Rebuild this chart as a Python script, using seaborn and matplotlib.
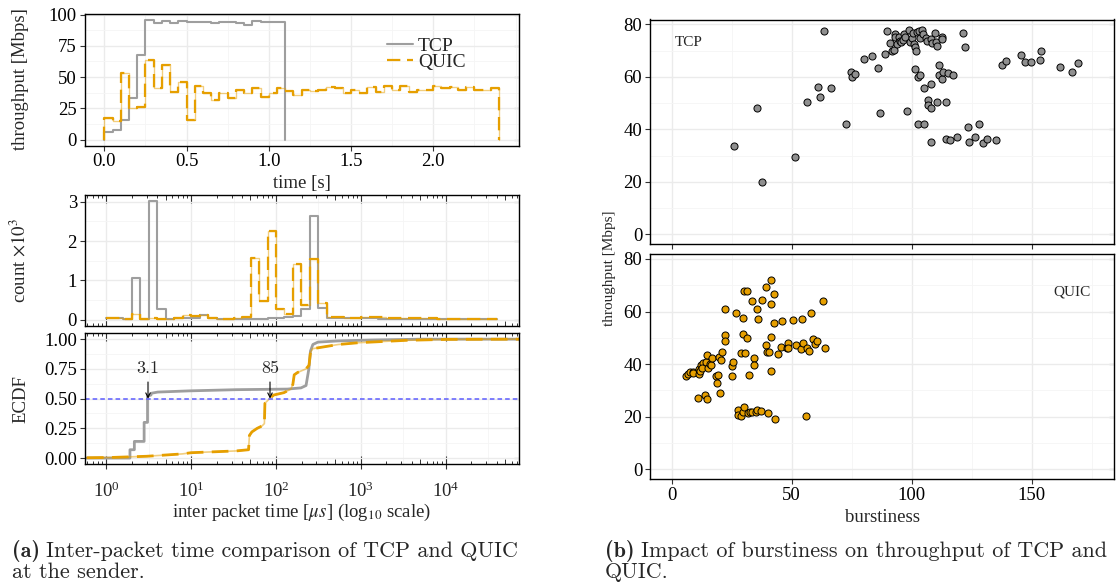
import numpy as np
import matplotlib
matplotlib.use('Agg')
import matplotlib.pyplot as plt
import matplotlib.ticker as mticker
from matplotlib.lines import Line2D
import seaborn as sns

# (a) arriba: throughput por intervalo de 50 ms [Mbps]
bin_s = 0.05
tcp_tput = [6, 8, 16, 33, 68, 96, 93, 94.5, 93, 94.5, 94, 94, 94, 93.5, 94, 94,
            93.5, 92, 95, 94, 94, 94]
quic_tput = [17, 15, 53, 25, 26, 64, 41, 60, 38, 46, 16, 43, 37.5, 32, 37.5, 33,
             39.5, 37.5, 41, 34, 37, 41, 38.5, 36, 40, 38.5, 40, 42, 41, 37, 40, 37.5,
             42, 38, 43, 39.5, 43, 38, 39.5, 40, 43, 41, 42, 39.5, 42, 39.5, 40, 41]

# (a) medio: histograma del tiempo entre paquetes, bins de 0.1 en log10(us), count x10^3
hist_bin = 0.1
tcp_hist = [0.04, 0.03, 0.02, 1.05, 0.02, 3.02, 0.27, 0.02, 0.04, 0.05, 0.05, 0.12,
            0.03, 0.02, 0.01, 0.01, 0.02, 0.02, 0.02, 0.03, 0.03, 0.06, 0.10, 0.27,
            2.65, 0.30, 0.05, 0.04, 0.03, 0.03, 0.03, 0.03, 0.02, 0.02, 0.02, 0.02,
            0.02, 0.01, 0.01, 0.01, 0.01, 0.01, 0.01, 0.01, 0.01, 0.01]
quic_hist = [0.04, 0.03, 0.02, 0.15, 0.02, 0.05, 0.02, 0.02, 0.03, 0.12, 0.08, 0.12,
             0.04, 0.02, 0.02, 0.03, 0.07, 1.57, 0.47, 2.27, 0.27, 0.15, 1.42, 0.37,
             1.55, 0.42, 0.07, 0.07, 0.05, 0.05, 0.06, 0.07, 0.06, 0.05, 0.04, 0.05,
             0.04, 0.04, 0.03, 0.02, 0.02, 0.02, 0.02, 0.02, 0.01, 0.01]

# (a) abajo: ECDF (us, fraccion)
tcp_ecdf_us = [0.3, 1.90, 1.90, 2.14, 2.14, 2.79, 2.79, 3.06, 3.06, 3.36, 3.40, 4.04,
               9.5, 34, 136, 197, 226, 244, 255, 272, 312, 540, 1360, 5400, 1e5]
tcp_ecdf_f = [0.0, 0.0, 0.07, 0.07, 0.14, 0.14, 0.30, 0.30, 0.52, 0.53, 0.545, 0.555,
              0.565, 0.575, 0.58, 0.59, 0.61, 0.75, 0.90, 0.955, 0.975, 0.985, 0.993,
              1.0, 1.0]
quic_ecdf_us = [0.3, 1.15, 3.0, 7.9, 10, 34, 47.5, 48.6, 52, 60, 68.5, 73, 74, 84, 94,
                124, 150, 158, 164, 180, 226, 245, 255, 272, 542, 940, 3400, 10300, 1e5]
quic_ecdf_f = [0.0, 0.005, 0.015, 0.035, 0.045, 0.06, 0.07, 0.19, 0.22, 0.25, 0.27,
               0.29, 0.46, 0.50, 0.53, 0.55, 0.58, 0.62, 0.70, 0.72, 0.75, 0.78, 0.89,
               0.92, 0.955, 0.97, 0.99, 0.998, 1.0]
tcp_median = 3.1
quic_median = 85

# (b) burstiness vs throughput
tcp_burst = [25.9, 35.5, 37.6, 51.3, 56.6, 60.8, 61.7, 63.5, 66.5, 72.6, 74.8, 75.2,
             76.6, 80.2, 83.5, 86.0, 86.8, 88.8, 89.9, 90.9, 92.0, 92.7, 93.1, 93.2,
             93.9, 94.9, 95.3, 95.6, 96.3, 97.0, 97.4, 98.0, 99.0, 99.4, 100.0, 100.4,
             101.0, 101.4, 101.6, 101.8, 102.1, 102.6, 102.6, 103.0, 103.3, 103.7, 104.4,
             104.8, 105.1, 105.1, 106.1, 106.5, 106.9, 106.9, 108.1, 108.1, 108.2, 108.2,
             108.6, 109.7, 110.0, 110.4, 110.6, 111.4, 111.4, 112.5, 112.5, 112.8, 113.1,
             114.2, 114.5, 115.2, 115.9, 117.4, 119.1, 121.5, 122.2, 123.7, 124.0, 126.5,
             128.2, 129.9, 131.4, 135.2, 137.6, 139.2, 145.7, 147.4, 149.9, 153.4, 153.8,
             162.0, 166.9, 169.2]
tcp_thr = [33.5, 48.3, 20.0, 29.4, 50.3, 56.3, 52.5, 77.7, 55.6, 42.1, 62.0, 59.9,
           61.3, 66.8, 68.0, 63.4, 46.1, 68.7, 77.4, 73.0, 69.8, 70.3, 76.3, 75.1,
           72.6, 75.1, 73.6, 73.2, 73.9, 76.3, 75.4, 47.2, 78.0, 73.5, 74.8, 76.7,
           72.6, 63.0, 71.6, 70.0, 77.1, 60.0, 42.0, 77.7, 74.8, 60.9, 78.0,
           76.2, 55.7, 42.0, 74.9, 73.6, 51.1, 49.3, 57.3, 74.5, 48.0, 35.2,
           72.8, 76.7, 73.2, 71.9, 50.4, 64.5, 60.7, 75.4, 74.4, 59.3, 62.0,
           36.5, 50.4, 61.6, 36.1, 60.7, 37.2, 76.8, 71.6, 40.8, 35.1, 37.1,
           42.1, 34.7, 36.4, 36.1, 64.6, 66.2, 68.5, 65.7, 65.8, 66.4, 70.0,
           63.7, 61.7, 65.5]
quic_burst = [5.9, 6.9, 7.7, 8.7, 9.1, 10.9, 11.2, 11.5, 11.9, 12.4,
              12.9, 12.6, 13.8, 14.4, 14.8, 14.8, 15.0, 15.8, 16.4, 16.9,
              18.5, 18.9, 19.3, 19.6, 20.1, 20.6, 21.0, 22.2, 22.4, 22.4,
              25.0, 25.3, 25.6, 26.7, 27.6, 27.8, 28.7, 28.8, 29.6, 29.9,
              29.9, 30.2, 30.3, 30.6, 31.3, 31.6, 31.9, 32.2, 32.6, 33.3,
              33.6, 34.3, 34.5, 35.2, 35.4, 35.7, 36.1, 37.3, 37.5, 39.4,
              39.4, 39.7, 40.3, 40.6, 41.3, 41.4, 41.3, 41.4, 42.5, 42.7,
              42.9, 44.5, 45.5, 45.9, 48.0, 48.5, 48.5, 50.6, 51.7, 54.1,
              54.5, 54.8, 55.9, 56.2, 57.1, 57.9, 58.9, 59.7, 60.7, 63.1, 63.8]
quic_thr = [35.3, 36.4, 36.9, 37.1, 36.5, 27.1, 36.3, 38.3, 37.4, 39.7,
            40.3, 38.5, 28.1, 40.8, 43.6, 26.7, 38.5, 40.1, 39.7, 42.3,
            35.5, 32.8, 35.8, 42.6, 29.1, 41.5, 44.7, 60.8, 51.2, 48.7,
            39.4, 35.3, 40.8, 59.4, 22.4, 20.7, 44.1, 20.3, 51.5, 57.5,
            21.7, 67.9, 23.8, 44.3, 67.9, 49.8, 21.5, 35.7, 21.9, 64.0,
            21.6, 42.2, 39.7, 21.7, 61.1, 22.7, 57.1, 22.1, 64.5, 47.2,
            69.4, 44.6, 21.5, 44.6, 37.2, 50.2, 62.7, 72.1, 55.8, 66.6,
            19.2, 43.8, 46.4, 56.4, 46.1, 48.1, 46.1, 56.9, 47.3, 45.8,
            57.0, 47.9, 20.2, 46.1, 45.0, 59.3, 49.5, 47.7, 48.9, 64.2, 46.0]

GREY = '#9E9E9E'
ORANGE = '#E69F00'
DASH = (0, (6, 3))
W, H = 1117, 583

sns.set_theme(style='whitegrid')
plt.rcParams['font.family'] = 'serif'
plt.rcParams['font.serif'] = ['Liberation Serif', 'DejaVu Serif']
plt.rcParams['mathtext.fontset'] = 'stix'

fig = plt.figure(figsize=(W / 100, H / 100), dpi=100)


def box(l, t, r, b):
    return [l / W, 1 - b / H, (r - l) / W, (b - t) / H]


def frame(ax, size=13.5):
    ax.set_facecolor('white')
    for s in ax.spines.values():
        s.set_visible(True)
        s.set_color('black')
        s.set_linewidth(1.0)
    ax.set_axisbelow(True)
    ax.grid(True, which='major', color='#EBEBEB', lw=1.0)
    ax.grid(True, which='minor', color='#F5F5F5', lw=0.6)
    ax.tick_params(which='major', direction='out', length=3.5, width=0.8, color='#333333',
                   labelsize=size, pad=2, bottom=True, left=True, labelcolor='black')
    ax.tick_params(which='minor', length=0, bottom=True, left=True)


def right_ticks(ax, ticks):
    sec = ax.secondary_yaxis('right')
    sec.set_yticks(ticks)
    sec.tick_params(which='major', direction='in', length=3.5, width=0.8,
                    color='#333333', labelright=False)
    sec.tick_params(which='minor', length=0)
    for s in sec.spines.values():
        s.set_visible(False)


def log_x(ax, labels):
    ax.set_xscale('log')
    ax.set_xlim(10 ** -0.256, 10 ** 4.862)
    decades = [10.0 ** k for k in range(0, 5)]
    ax.set_xticks(decades)
    ax.xaxis.set_minor_locator(mticker.LogLocator(base=10, subs=[2, 3, 4, 6, 7, 8, 9], numticks=20))
    ax.xaxis.set_major_formatter(mticker.NullFormatter())
    ax.xaxis.set_minor_formatter(mticker.NullFormatter())
    ax.tick_params(axis='x', which='major', direction='in', length=5.5, top=True,
                   bottom=True, labelbottom=False)
    ax.tick_params(axis='x', which='minor', direction='in', length=2.2, width=0.7,
                   color='#333333', top=True, bottom=True)
    ax.grid(False, axis='x', which='minor')
    for k in range(-1, 5):
        ax.axvline(10 ** (k + 0.5), color='#F5F5F5', lw=0.6, zorder=0)
    for loc in ('top', 'bottom'):
        mid = ax.secondary_xaxis(loc)
        mid.set_xticks([5 * 10.0 ** k for k in range(0, 5)])
        mid.tick_params(which='major', direction='in', length=3.8, width=0.7, color='#333333',
                        labelbottom=False, labeltop=False)
        mid.tick_params(which='minor', length=0)
        for s in mid.spines.values():
            s.set_visible(False)
    if labels:
        lab = ax.secondary_xaxis('bottom')
        lab.set_xticks(decades)
        lab.xaxis.set_major_formatter(mticker.LogFormatterMathtext())
        lab.tick_params(which='major', direction='out', length=3.5, width=0.8,
                        color='#333333', labelsize=13.5, pad=9)
        lab.tick_params(which='minor', length=0)
        for s in lab.spines.values():
            s.set_visible(False)


def steps(ax, x, y, color, lw, dashed=False):
    if dashed:
        sns.lineplot(x=x, y=y, ax=ax, sort=False, estimator=None, drawstyle='steps-post',
                     color=color, lw=lw * 0.6, alpha=0.5)
        sns.lineplot(x=x, y=y, ax=ax, sort=False, estimator=None, drawstyle='steps-post',
                     color=color, lw=lw, linestyle=DASH)
    else:
        sns.lineplot(x=x, y=y, ax=ax, sort=False, estimator=None, drawstyle='steps-post',
                     color=color, lw=lw)


# ---------- (a) throughput over time ----------
ax1 = fig.add_axes(box(84.6, 13.5, 518.8, 145.5))
frame(ax1)
t_tcp = np.arange(len(tcp_tput) + 1) * bin_s
t_quic = np.arange(len(quic_tput) + 1) * bin_s
steps(ax1, np.r_[0, t_tcp], np.r_[0, tcp_tput, 0], GREY, 1.5)
steps(ax1, np.r_[0, t_quic], np.r_[0, quic_tput, 0], ORANGE, 1.6, dashed=True)
ax1.set_xlim(-0.12, 2.52)
ax1.set_ylim(-4.8, 100.8)
ax1.set_xticks([0, 0.5, 1.0, 1.5, 2.0])
ax1.xaxis.set_major_formatter(mticker.FormatStrFormatter('%.1f'))
ax1.xaxis.set_minor_locator(mticker.MultipleLocator(0.25))
ax1.set_yticks([0, 25, 50, 75, 100])
ax1.yaxis.set_minor_locator(mticker.MultipleLocator(12.5))
right_ticks(ax1, [0, 25, 50, 75, 100])
ax1.set_xlabel('time [s]', fontsize=13.5)
ax1.xaxis.set_label_coords(0.5, -0.225)
ax1.set_ylabel('throughput [Mbps]', fontsize=13.5)
ax1.yaxis.set_label_coords(-0.128, 0.5)
handles = [Line2D([], [], color=GREY, lw=1.5), Line2D([], [], color=ORANGE, lw=1.6, linestyle=DASH)]
ax1.legend(handles, ['TCP', 'QUIC'], loc='upper left', bbox_to_anchor=(0.696, 0.82),
           frameon=False, fontsize=14, handlelength=1.35, handletextpad=0.26,
           labelspacing=-0.1, borderpad=0, borderaxespad=0)

# ---------- (a) histogram ----------
ax2 = fig.add_axes(box(84.6, 195.2, 518.8, 325.5))
frame(ax2)
log_x(ax2, False)
edges = 10 ** (np.arange(len(tcp_hist) + 1) * hist_bin)
steps(ax2, edges, np.r_[tcp_hist, tcp_hist[-1]], GREY, 1.5)
steps(ax2, edges, np.r_[quic_hist, quic_hist[-1]], ORANGE, 1.6, dashed=True)
ax2.set_ylim(-0.15, 3.17)
ax2.set_yticks([0, 1, 2, 3])
ax2.yaxis.set_minor_locator(mticker.MultipleLocator(0.5))
right_ticks(ax2, [0, 1, 2, 3])
ax2.set_ylabel(r'count $\times 10^3$', fontsize=13.5)
ax2.yaxis.set_label_coords(-0.128, 0.5)

# ---------- (a) ECDF ----------
ax3 = fig.add_axes(box(84.6, 333.2, 518.8, 464))
frame(ax3)
log_x(ax3, True)
sns.lineplot(x=tcp_ecdf_us, y=tcp_ecdf_f, ax=ax3, sort=False, estimator=None, color=GREY, lw=2.0)
sns.lineplot(x=quic_ecdf_us, y=quic_ecdf_f, ax=ax3, sort=False, estimator=None,
             color=ORANGE, lw=1.2, alpha=0.5)
sns.lineplot(x=quic_ecdf_us, y=quic_ecdf_f, ax=ax3, sort=False, estimator=None,
             color=ORANGE, lw=2.0, linestyle=DASH)
ax3.axhline(0.5, color='#5C5CFF', lw=1.1, linestyle=(0, (3, 2)))
for m, lab in [(tcp_median, '3.1'), (quic_median, '85')]:
    ax3.annotate(lab, xy=(m, 0.5), xytext=(m, 0.755), ha='center', va='center',
                 fontsize=13, family='cmr10',
                 arrowprops=dict(arrowstyle='->', lw=0.8, color='black',
                                 shrinkA=2, shrinkB=0, mutation_scale=8))
ax3.set_ylim(-0.05, 1.05)
ax3.set_yticks([0, 0.25, 0.5, 0.75, 1.0])
ax3.yaxis.set_major_formatter(mticker.FormatStrFormatter('%.2f'))
ax3.yaxis.set_minor_locator(mticker.MultipleLocator(0.125))
right_ticks(ax3, [0, 0.25, 0.5, 0.75, 1.0])
ax3.set_ylabel('ECDF', fontsize=13.5)
ax3.yaxis.set_label_coords(-0.128, 0.5)
ax3.set_xlabel(r'inter packet time [$\mu s$] (log$_{10}$ scale)', fontsize=13.5)
ax3.xaxis.label.set_visible(True)
ax3.xaxis.set_label_coords(0.5, -0.29)

# ---------- (b) burstiness ----------
for i, (bx, th, col, name, pos) in enumerate([
        (tcp_burst, tcp_thr, '#8F8F8F', 'TCP', (6.9, 73.2)),
        (quic_burst, quic_thr, ORANGE, 'QUIC', (166.8, 67.5))]):
    ax = fig.add_axes(box(649.8, 19.5, 1114.4, 244) if i == 0 else box(649.8, 254, 1114.4, 479))
    frame(ax, 13.5)
    sns.scatterplot(x=bx, y=th, ax=ax, color=col, edgecolor='black', linewidth=0.7, s=26, zorder=3)
    ax.set_xlim(-9.1, 184.5)
    ax.set_ylim(-3.7, 81.9)
    ax.set_xticks([0, 50, 100, 150])
    ax.xaxis.set_minor_locator(mticker.MultipleLocator(25))
    ax.set_yticks([0, 20, 40, 60, 80])
    ax.yaxis.set_minor_locator(mticker.MultipleLocator(10))
    right_ticks(ax, [0, 20, 40, 60, 80])
    ax.text(pos[0], pos[1], name, ha='center', va='center', fontsize=11)
    if i == 0:
        ax.tick_params(labelbottom=False)
    else:
        ax.set_xlabel('burstiness', fontsize=13.5)
        ax.xaxis.label.set_visible(True)
        ax.xaxis.set_label_coords(0.5, -0.135)

fig.text(609 / W, 1 - 268 / H, 'throughput [Mbps]', rotation=90, ha='center', va='center',
         fontsize=11)

# ---------- captions ----------
renderer = fig.canvas.get_renderer()
cap = dict(fontsize=15.9, va='baseline', ha='left')
for x0, tag, line1, line2 in [(12, '(a)', 'Inter-packet time comparison of TCP and QUIC', 'at the sender.'),
                              (605, '(b)', 'Impact of burstiness on throughput of TCP and', 'QUIC.')]:
    t = fig.text(x0 / W, 1 - 556.7 / H, tag, family='cmb10', **cap)
    x1 = t.get_window_extent(renderer).x1
    fig.text((x1 + 6) / W, 1 - 556.7 / H, line1, family='cmr10', **cap)
    fig.text(x0 / W, 1 - 578 / H, line2, family='cmr10', **cap)

fig.savefig('out.png', dpi=100)
